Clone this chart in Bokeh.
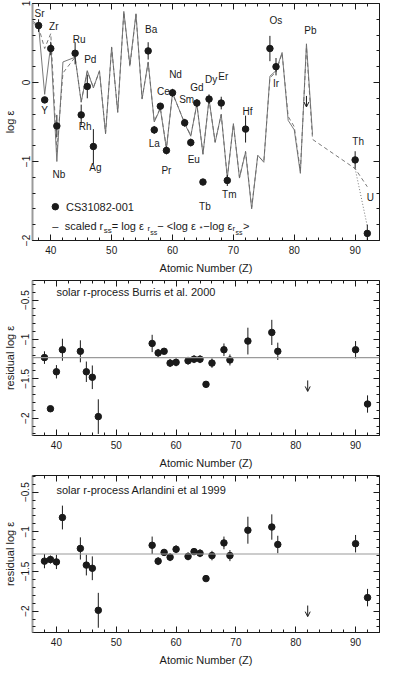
import numpy as np
from bokeh.plotting import figure
from bokeh.models import (Range1d, FixedTicker, LinearAxis, Span, Arrow, OpenHead,
                          ColumnDataSource, Label)
from bokeh.layouts import column
from bokeh.embed import file_html
from bokeh.resources import INLINE
from bokeh.core.properties import value

# ---------------- data ----------------
elements = ["Sr", "Y", "Zr", "Nb", "Ru", "Rh", "Pd", "Ag", "Ba", "La", "Ce", "Pr", "Nd",
            "Sm", "Eu", "Gd", "Tb", "Dy", "Er", "Tm", "Hf", "Os", "Ir", "Th", "U"]
z_obs = [38, 39, 40, 41, 44, 45, 46, 47, 56, 57, 58, 59, 60,
         62, 63, 64, 65, 66, 68, 69, 72, 76, 77, 90, 92]
log_eps = [0.72, -0.22, 0.43, -0.55, 0.37, -0.41, -0.05, -0.81, 0.40, -0.60, -0.30, -0.86, -0.13,
           -0.51, -0.76, -0.26, -1.26, -0.21, -0.26, -1.24, -0.59, 0.43, 0.20, -0.98, -1.91]
log_eps_err = [0.08, 0.03, 0.085, 0.14, 0.14, 0.13, 0.15, 0.22, 0.11, 0.05, 0.04, 0.05, 0.05,
               0.05, 0.05, 0.05, 0.03, 0.06, 0.08, 0.07, 0.17, 0.16, 0.11, 0.11, 0.11]

pb_label = "Pb"
pb_z = 82
pb_limit = -0.17
pb_resid_burris = -1.52
pb_resid_arlandini = -1.93

z_model = [37, 38, 39, 40, 41, 42, 44, 45, 46, 47, 48, 49, 50, 51, 52, 53, 54, 55, 56, 57, 58,
           59, 60, 62, 63, 64, 65, 66, 67, 68, 69, 70, 71, 72, 73, 74, 75, 76, 77, 78, 79, 80,
           81, 82, 83]
scaled_rss_solid = [0.78, 0.72, -0.15, 0.48, -1.00, 0.26, 0.32, -0.25, 0.15, -0.07, 0.15, -0.65,
                    0.45, -0.38, 0.90, 0.22, 0.87, -0.21, 0.26, -0.50, -0.33, -0.84, -0.13, -0.52,
                    -0.68, -0.27, -0.91, -0.21, -0.76, -0.40, -1.21, -0.52, -1.21, -0.88, -1.60,
                    -0.92, -1.01, 0.08, 0.15, 0.38, -0.48, -0.60, -1.15, 0.49, -0.66]
z_model_dashed = z_model + [90, 92]
scaled_rss_dashed = [0.76, 0.70, 0.43, 0.62, -0.88, 0.12, 0.32, -0.24, 0.14, -0.06, 0.14, -0.64,
                     0.44, -0.37, 0.89, 0.20, 0.86, -0.20, 0.25, -0.49, -0.32, -0.83, -0.14, -0.51,
                     -0.67, -0.28, -0.90, -0.22, -0.75, -0.41, -1.20, -0.53, -1.20, -0.87, -1.58,
                     -0.93, -1.00, 0.06, 0.13, 0.37, -0.43, -0.56, -1.12, 0.45, -0.72,
                     -1.09, -1.32]
z_decay = [90, 92]
scaled_rss_decay = [-1.09, -1.82]

resid_burris = [-1.23, -1.88, -1.41, -1.13, -1.15, -1.41, -1.48, -1.98, -1.05, -1.17, -1.15, -1.30,
                -1.29, -1.27, -1.25, -1.25, -1.57, -1.30, -1.13, -1.26, -1.02, -0.91, -1.15,
                -1.13, -1.82]
resid_burris_err = [0.08, 0.03, 0.085, 0.14, 0.14, 0.13, 0.15, 0.22, 0.11, 0.05, 0.03, 0.05,
                    0.05, 0.05, 0.05, 0.05, 0.03, 0.06, 0.08, 0.07, 0.17, 0.16, 0.11, 0.11, 0.11]
resid_arlandini = [-1.37, -1.35, -1.38, -0.82, -1.21, -1.42, -1.46, -1.99, -1.17, -1.37, -1.26,
                   -1.32, -1.22, -1.31, -1.25, -1.27, -1.59, -1.30, -1.14, -1.30, -0.98, -0.94,
                   -1.16, -1.15, -1.83]
resid_arlandini_err = [0.09, 0.05, 0.09, 0.15, 0.14, 0.13, 0.15, 0.22, 0.11, 0.05, 0.04, 0.05,
                       0.05, 0.05, 0.04, 0.05, 0.03, 0.06, 0.08, 0.07, 0.17, 0.16, 0.11, 0.11, 0.11]
mean_burris = -1.23
mean_arlandini = -1.28

x_ticks = [40, 50, 60, 70, 80, 90]
top_y_ticks = [-2, -1, 0, 1]
res_y_ticks = [-2, -1.5, -1, -0.5]

star_name = "CS31082-001"
title_burris = "solar r-process Burris et al. 2000"
title_arlandini = "solar r-process Arlandini et al 1999"
x_title = "Atomic Number (Z)"

# ---------------- style ----------------
INK = "#1a1a1a"
LINE = "#6a6a6a"
FONT = "Liberation Sans"
W = 382

# label offsets (px) for element names in the top panel
label_dx = [1, 0, 3, 2, 4, 4, 3, 2, 3, 0, 3, 0, 3, 2, 3, 0, 2, 2, 2, 2, 2, 6, 0, 3, 3]
label_dy = [-12, 11, -22, 49, -14, 12, -27, 21, -21, 14, -15, 20, -18, -23, 17, -16, 24, -20,
            -27, 14, -18, -28, 17, -18, -36]


def tick_text(v):
    return f"{v:g}".replace("-", "\u2212")


def key(v):
    return int(v) if float(v).is_integer() else v


def style_axis(ax):
    ax.major_tick_in = 6
    ax.major_tick_out = 0
    ax.minor_tick_in = 3
    ax.minor_tick_out = 0
    ax.major_tick_line_color = INK
    ax.minor_tick_line_color = INK
    ax.axis_line_color = INK
    ax.axis_line_width = 1
    ax.major_label_text_font = FONT
    ax.major_label_text_color = INK
    ax.major_label_text_font_size = "10px"
    ax.axis_label_text_font = FONT
    ax.axis_label_text_font_style = "normal"
    ax.axis_label_text_color = INK
    ax.axis_label_text_font_size = "11px"


def add_tick_only_axis(p, side, positions, length):
    # an axis with no major ticks (hence no labels); its minor ticks act as the tick marks
    ax = LinearAxis(ticker=FixedTicker(ticks=[], minor_ticks=positions))
    ax.major_tick_in = 0
    ax.major_tick_out = 0
    ax.minor_tick_in = length
    ax.minor_tick_out = 0
    ax.minor_tick_line_color = INK
    ax.axis_line_color = None
    p.add_layout(ax, side)


def make_panel(height, x_range, y_range, y_ticks, y_minor_step, y_label, top_border):
    p = figure(width=W, height=height, x_range=Range1d(*x_range), y_range=Range1d(*y_range),
               output_backend="svg", toolbar_location=None,
               min_border_left=28, min_border_right=3, min_border_top=top_border,
               min_border_bottom=0)
    p.grid.visible = False
    p.outline_line_color = INK
    p.outline_line_width = 1
    x_minor = list(range(36, 96, 2))
    xt = FixedTicker(ticks=x_ticks, minor_ticks=x_minor)
    lo, hi = y_range
    ym = np.round(np.arange(np.floor(lo), np.ceil(hi) + 1e-9, y_minor_step), 3).tolist()
    yt = FixedTicker(ticks=y_ticks, minor_ticks=ym)

    xa = p.xaxis[0]
    ya = p.yaxis[0]
    xa.ticker = xt
    ya.ticker = yt
    style_axis(xa)
    style_axis(ya)
    xa.axis_label = x_title
    xa.major_label_standoff = 5
    xa.axis_label_standoff = 5
    xa.major_label_overrides = {key(t): tick_text(t) for t in x_ticks}
    ya.axis_label = y_label
    ya.major_label_standoff = 3
    ya.axis_label_standoff = 3
    ya.major_label_orientation = "vertical"
    ya.major_label_overrides = {key(t): tick_text(t) for t in y_ticks}
    ya.axis_line_color = "#9a9a9a"
    ya.axis_line_width = 2

    add_tick_only_axis(p, "above", [t for t in x_minor if t not in x_ticks], 3)
    add_tick_only_axis(p, "above", x_ticks, 6)
    add_tick_only_axis(p, "right", [t for t in ym if t not in y_ticks], 3)
    add_tick_only_axis(p, "right", list(y_ticks), 6)
    return p


# ---------------- top panel ----------------
p1 = make_panel(276, (37, 94), (-2, 1), top_y_ticks, 0.2, "log \u03b5", 3)

p1.line(z_model, scaled_rss_solid, line_color=LINE, line_width=0.9)
p1.line(z_model_dashed, scaled_rss_dashed, line_color=LINE, line_width=0.9, line_dash="4 3")
p1.line(z_decay, scaled_rss_decay, line_color=LINE, line_width=0.9, line_dash="1 2")

le = np.array(log_eps)
ee = np.array(log_eps_err)
p1.segment(x0=z_obs, y0=(le - ee).tolist(), x1=z_obs, y1=(le + ee).tolist(),
           line_color=INK, line_width=1)
p1.scatter(z_obs, log_eps, size=6.5, color=INK)

src = ColumnDataSource(dict(x=z_obs, y=log_eps, t=elements, dx=label_dx, dy=label_dy))
p1.text("x", "y", "t", source=src, x_offset="dx", y_offset="dy", text_align="center",
        text_baseline="middle", text_font=value(FONT), text_font_size="10px", text_color=INK)

p1.add_layout(Arrow(end=OpenHead(size=5, line_color=INK, line_width=1),
                    x_start=pb_z, y_start=pb_limit, x_end=pb_z, y_end=pb_limit - 0.14,
                    line_color=INK, line_width=1))
p1.text(x=[pb_z], y=[pb_limit], text=[pb_label], x_offset=4, y_offset=-65,
        text_align="center", text_baseline="middle", text_font=value(FONT),
        text_font_size="10px", text_color=INK)

# legend (manual, to allow sub-scripts)
leg_marker_z = 40.75
leg_text_z = 42.3
leg_row1 = -1.572
leg_row2 = -1.815
p1.scatter([leg_marker_z], [leg_row1], size=6.5, color=INK)
p1.text(x=[leg_text_z + 0.2], y=[leg_row1], text=[star_name], text_align="left",
        text_baseline="middle", text_font=value(FONT), text_font_size="11px", text_color=INK)
p1.text(x=[leg_marker_z], y=[leg_row2], text=["\u2013"], text_align="center",
        text_baseline="alphabetic", text_font=value(FONT), text_font_size="11px",
        text_color=INK)
pieces = [("scaled r", 0, 0, "11px"), ("ss", 39, 5, "8px"), (" = log \u03b5", 47, 0, "11px"),
          ("r", 82.7, 3, "8px"), ("ss", 85.6, 7, "7px"),
          (" \u2212 <log \u03b5", 92.6, 0, "11px"), ("*", 134.8, 3, "8px"),
          ("\u2212log \u03b5", 138.5, 0, "11px"), ("r", 167.8, 3, "8px"),
          ("ss", 170.7, 7, "7px"), (">", 178.2, 0, "11px")]
for txt, dx, dy, fs in pieces:
    p1.text(x=[leg_text_z], y=[leg_row2], text=[txt], x_offset=dx, y_offset=dy,
            text_align="left", text_baseline="alphabetic", text_font=value(FONT),
            text_font_size=fs, text_color=INK)


# ---------------- residual panels ----------------
def residual_panel(height, y_range, resid, resid_err, mean, pb_resid, title, title_y, top_border):
    p = make_panel(height, (36, 94), y_range, res_y_ticks, 0.1, "residual log \u03b5", top_border)
    p.add_layout(Span(location=mean, dimension="width", line_color="#9a9a9a", line_width=1.2))
    r = np.array(resid)
    e = np.array(resid_err)
    p.segment(x0=z_obs, y0=(r - e).tolist(), x1=z_obs, y1=(r + e).tolist(),
              line_color=INK, line_width=1)
    p.scatter(z_obs, resid, size=6.5, color=INK)
    p.add_layout(Arrow(end=OpenHead(size=5, line_color=INK, line_width=1),
                       x_start=pb_z, y_start=pb_resid, x_end=pb_z, y_end=pb_resid - 0.14,
                       line_color=INK, line_width=1))
    p.add_layout(Label(x=40.0, y=title_y, text=title, text_font=FONT, text_font_size="11px",
                       text_baseline="middle", text_color=INK))
    return p


p2 = residual_panel(195, (-2.22, -0.25), resid_burris, resid_burris_err, mean_burris,
                    pb_resid_burris, title_burris, -0.40, 4)
p3 = residual_panel(197, (-2.27, -0.29), resid_arlandini, resid_arlandini_err, mean_arlandini,
                    pb_resid_arlandini, title_arlandini, -0.47, 4)

layout = column(p1, p2, p3, spacing=0)
open("out.html", "w").write(file_html(layout, INLINE))
